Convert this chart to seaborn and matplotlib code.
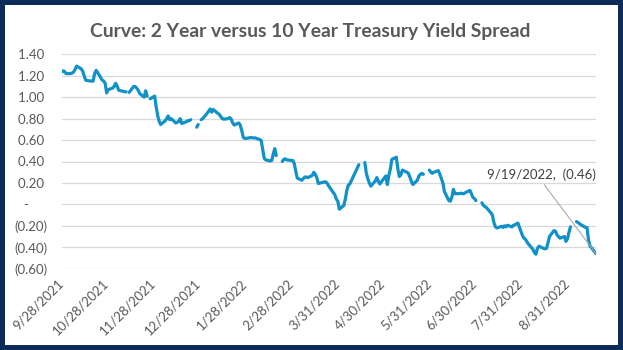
import numpy as np
import pandas as pd
import matplotlib
matplotlib.use("Agg")
import matplotlib.pyplot as plt
import seaborn as sns
from matplotlib.patches import Rectangle

# ---------------- data (business days, None = missing value -> gap) ----------------
start_date = "2021-09-28"
end_date = "2022-09-19"

sep21 = [1.235, 1.245, 1.24]
oct21 = [1.22,
         1.22, 1.225, 1.235, 1.26, 1.29,
         1.265, 1.245, 1.20, 1.16, 1.155,
         1.15, 1.15, 1.22, 1.25, 1.23,
         1.16, 1.15, 1.13, 1.04, 1.07]
nov21 = [1.085, 1.10, 1.13, 1.105, 1.065,
         1.055, 1.05, 1.05, None, 1.045,
         1.10, 1.10, 1.085, 1.065, 1.035,
         1.00, 1.06, 1.01, None, 0.985,
         1.01, 0.91]
dec21 = [0.83, 0.775, 0.745,
         0.78, 0.80, 0.825, 0.79, 0.80,
         0.76, 0.765, 0.775, 0.80, 0.755,
         0.77, 0.78, 0.78, 0.79, None,
         0.72, 0.745, None, 0.79, 0.80]
jan22 = [0.85, 0.87, 0.89, 0.86, 0.885,
         0.85, 0.84, 0.82, 0.80, 0.795,
         0.80, 0.81, 0.795, 0.76, 0.74,
         0.76, 0.74, 0.69, 0.625, 0.615,
         0.62]
feb22 = [0.625, 0.62, 0.62, 0.62,
         0.605, 0.595, 0.51, 0.43, 0.415,
         0.405, 0.41, 0.47, 0.52, 0.455,
         None, 0.40, 0.42, 0.425, 0.415,
         0.41]
mar22 = [0.41, 0.38, 0.31, 0.245,
         0.225, 0.24, 0.255, 0.255, 0.25,
         0.27, 0.30, 0.28, 0.25, 0.195,
         0.205, 0.21, 0.21, 0.195, 0.17,
         0.11, 0.09, 0.05, 0.03]
apr22 = [-0.045,
         -0.01, 0.05, 0.13, 0.18, 0.19,
         0.28, 0.31, 0.34, 0.37, None,
         0.39, 0.29, 0.24, 0.20, 0.17,
         0.22, 0.25, 0.215, 0.19, 0.21]
may22 = [0.265, 0.185, 0.27, 0.33, 0.42,
         0.44, 0.33, 0.26, 0.275, 0.32,
         0.30, 0.29, 0.255, 0.215, 0.185,
         0.225, 0.265, 0.28, 0.29, 0.28,
         None, 0.32]
jun22 = [0.30, 0.29, 0.30,
         0.315, 0.28, 0.24, 0.20, 0.12,
         0.035, 0.03, 0.07, 0.14, 0.10,
         0.10, 0.105, 0.10, 0.10, 0.11,
         0.13, 0.10, 0.065, 0.055]
jul22 = [0.035,
         None, 0.015, -0.01, -0.02, -0.03,
         -0.08, -0.10, -0.17, -0.21, -0.22,
         -0.205, -0.215, -0.20, -0.21, -0.195,
         -0.21, -0.195, -0.19, -0.18, -0.175]
aug22 = [-0.29, -0.315, -0.325, -0.35, -0.37,
         -0.42, -0.45, -0.465, -0.41, -0.39,
         -0.41, -0.415, -0.41, -0.36, -0.30,
         -0.245, -0.25, -0.285, -0.30, -0.315,
         -0.30, -0.345, -0.32]
sep22 = [-0.26, -0.21,
         None, -0.16, -0.17, -0.18, -0.19,
         -0.215, -0.215, -0.33, -0.39, -0.405,
         -0.46]

y_ticks = [1.40, 1.20, 1.00, 0.80, 0.60, 0.40, 0.20, 0.0, -0.20, -0.40, -0.60]
x_tick_dates = ["2021-09-28", "2021-10-28", "2021-11-28", "2021-12-28",
                "2022-01-28", "2022-02-28", "2022-03-31", "2022-04-30",
                "2022-05-31", "2022-06-30", "2022-07-31", "2022-08-31"]
title = "Curve: 2 Year versus 10 Year Treasury Yield Spread"

# ---------------- assemble ----------------
values = (sep21 + oct21 + nov21 + dec21 + jan22 + feb22 + mar22 + apr22 +
          may22 + jun22 + jul22 + aug22 + sep22)
dates = pd.bdate_range(start_date, end_date)
assert len(dates) == len(values), (len(dates), len(values))
df = pd.DataFrame({"date": dates, "spread": pd.array(values, dtype="float")})
df["seg"] = df["spread"].isna().cumsum()
plot_df = df.dropna()

# ---------------- style ----------------
sns.set_theme(style="white")
plt.rcParams["font.family"] = ["Lato", "DejaVu Sans"]

W, H = 623, 350
LINE = "#1191C8"
GREY = "#595959"
NAVY = "#0D2C5A"

fig = plt.figure(figsize=(W / 100, H / 100), dpi=100)
fig.patch.set_facecolor("white")
left, right, top, bottom = 61.6, 596.0, 54.3, 268.7
ax = fig.add_axes([left / W, 1 - bottom / H, (right - left) / W, (bottom - top) / H])

sns.lineplot(data=plot_df, x="date", y="spread", units="seg", estimator=None,
             color=LINE, lw=2.3, ax=ax, solid_capstyle="round", solid_joinstyle="round")

ax.set_xlim(pd.Timestamp(start_date), pd.Timestamp(end_date))
ax.set_ylim(-0.6, 1.4)


def fmt(v):
    if abs(v) < 1e-9:
        return "-\u2007\u2007 "
    if v < 0:
        return f"({abs(v):.2f})"
    return f"{v:.2f} "


ax.set_yticks(y_ticks)
ax.set_yticklabels([fmt(v) for v in y_ticks])
xt = pd.to_datetime(x_tick_dates)
ax.set_xticks(xt)
ax.set_xticklabels([f"{d.month}/{d.day}/{d.year}" for d in xt],
                   rotation=45, ha="right", va="center", rotation_mode="anchor")
ax.grid(axis="y", color="#D9D9D9", lw=0.9)
ax.grid(axis="x", visible=False)
ax.set_axisbelow(True)
for s in ax.spines.values():
    s.set_visible(False)
ax.tick_params(axis="both", length=0, colors=GREY, labelsize=9.5)
ax.tick_params(axis="y", pad=10)
ax.tick_params(axis="x", pad=9)
ax.set_xlabel("")
ax.set_ylabel("")

# annotation of the last point
last = plot_df.iloc[-1]
d = last["date"]
ax.annotate(f"{d.month}/{d.day}/{d.year},  ({abs(last['spread']):.2f})",
            xy=(d, last["spread"]), xytext=(-39, 56.5), textcoords="offset points",
            ha="center", va="center", fontsize=9.5, color="#404040",
            arrowprops=dict(arrowstyle="-", color="#A6A6A6", lw=0.75,
                            shrinkA=0, shrinkB=0, relpos=(0.5, 0.0)))

# title
t = fig.text(310 / W, 1 - 32 / H, title, ha="center", va="center",
             fontsize=13.5, weight="bold", color=GREY)
fig.canvas.draw()
w = t.get_window_extent().width
t.set_fontsize(13.5 * 441 / w)

# outer navy frame
fig.patches.append(Rectangle((0, 0), 1, 1, transform=fig.transFigure, fill=False,
                             edgecolor=NAVY, lw=7.2, zorder=10))

fig.savefig("out.png", dpi=100)
